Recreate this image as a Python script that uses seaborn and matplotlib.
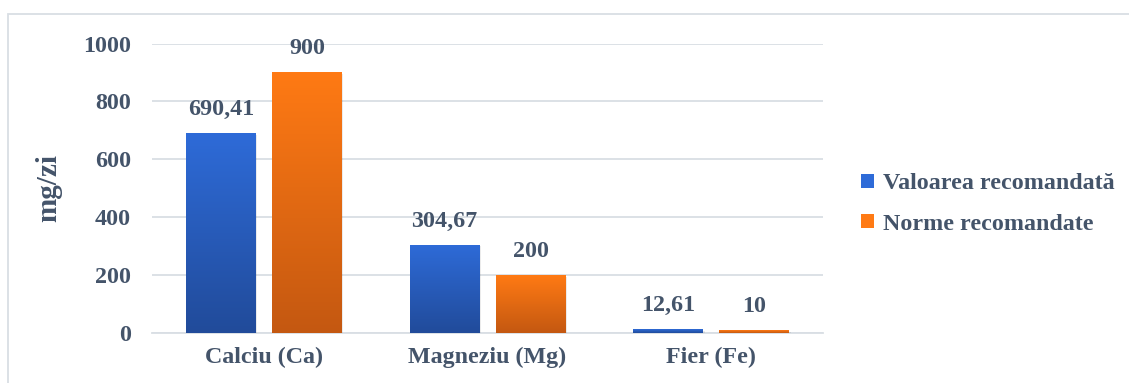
import numpy as np
import pandas as pd
import matplotlib
matplotlib.use("Agg")
import matplotlib.pyplot as plt
import matplotlib.patheffects as pe
from matplotlib.colors import LinearSegmentedColormap
from matplotlib.patches import Patch, Rectangle
import seaborn as sns

# Data
categories = ["Calciu (Ca)", "Magneziu (Mg)", "Fier (Fe)"]
series_names = ["Valoarea recomandată", "Norme recomandate"]
valoarea = [690.41, 304.67, 12.61]
norme = [900, 200, 10]
valoarea_labels = ["690,41", "304,67", "12,61"]
norme_labels = ["900", "200", "10"]
y_ticks = [0, 200, 400, 600, 800, 1000]

df = pd.DataFrame({
    "categorie": categories * 2,
    "serie": [series_names[0]] * 3 + [series_names[1]] * 3,
    "valoare": valoarea + norme,
})

TEXT = "#44546A"
GRID = "#D9DEE4"
FS = 17.3
# (top, bottom) colours of each series' vertical gradient
grad = {
    series_names[0]: ("#2E6BD8", "#214B9A"),
    series_names[1]: ("#FF7A14", "#C45811"),
}

sns.set_theme(style="white")
plt.rcParams["font.family"] = ["Liberation Serif", "DejaVu Serif"]
plt.rcParams["font.weight"] = "bold"

fig = plt.figure(figsize=(11.29, 3.83), dpi=100)
ax = fig.add_axes([152 / 1129, 1 - 333 / 383, (823 - 152) / 1129, (333 - 43.5) / 383])

sns.barplot(data=df, x="categorie", y="valoare", hue="serie",
            order=categories, hue_order=series_names,
            palette=[grad[s][0] for s in series_names],
            width=0.77, gap=0.19, legend=False, ax=ax)

ax.set_xlim(-0.5, 2.5)
ax.set_ylim(0, 1000)
ax.set_yticks(y_ticks)
ax.set_yticklabels([str(t) for t in y_ticks])

# Replace flat fills with vertical gradients clipped to each bar
bars = list(ax.patches)
n = len(categories)
labels_all = valoarea_labels + norme_labels
for i, bar in enumerate(bars):
    serie = series_names[i // n]
    top_c, bot_c = grad[serie]
    cmap = LinearSegmentedColormap.from_list("g", [bot_c, top_c])
    x0, y0 = bar.get_x(), bar.get_y()
    w, h = bar.get_width(), bar.get_height()
    bar.set_facecolor(bot_c)
    bar.set_edgecolor("none")
    bar.set_path_effects([pe.SimplePatchShadow(offset=(1.2, -1.2), shadow_rgbFace="#000000", alpha=0.08),
                          pe.Normal()])
    bar.set_zorder(2)
    img = ax.imshow(np.linspace(0, 1, 256).reshape(-1, 1), cmap=cmap, origin="lower",
                    extent=[x0, x0 + w, y0, y0 + h], aspect="auto", zorder=3,
                    interpolation="bilinear")
    img.set_clip_path(bar)
    ax.annotate(labels_all[i], (x0 + w / 2, y0 + h), xytext=(0, 17),
                textcoords="offset points", ha="center", va="center",
                fontsize=FS, fontweight="bold", color=TEXT)

ax.set_xlim(-0.5, 2.5)
ax.set_ylim(0, 1000)

# Grid and axes styling
ax.yaxis.grid(True, color=GRID, linewidth=1.3, zorder=0)
ax.set_axisbelow(True)
for side in ["top", "right", "left"]:
    ax.spines[side].set_visible(False)
ax.spines["bottom"].set_color(GRID)
ax.spines["bottom"].set_linewidth(1.3)
ax.spines["bottom"].set_zorder(1)

ax.set_xticks([-0.5, 0.5, 1.5, 2.5], minor=True)
ax.tick_params(axis="x", which="minor", length=6, width=1.3, color=GRID, direction="out")
ax.tick_params(axis="x", which="major", length=0, pad=10, labelsize=FS, labelcolor=TEXT)
ax.tick_params(axis="y", length=0, pad=15, labelsize=FS, labelcolor=TEXT)
for lab in ax.get_xticklabels() + ax.get_yticklabels():
    lab.set_fontweight("bold")

ax.set_xlabel("")
ax.set_ylabel("mg/zi", fontsize=21, fontweight="bold", color=TEXT)
ax.yaxis.set_label_coords((62 - 152) / 671, 0.5)

# Legend on the right
handles = [Patch(facecolor=grad[s][0], edgecolor="none") for s in series_names]
leg = fig.legend(handles, series_names, loc="center left",
                 bbox_to_anchor=(861 / 1129, 1 - 204 / 383), frameon=False,
                 fontsize=FS, handlelength=0.55, handleheight=0.55,
                 handletextpad=0.35, labelspacing=0.8, borderaxespad=0, borderpad=0)
for t in leg.get_texts():
    t.set_color(TEXT)
    t.set_fontweight("bold")

# Thin frame around the chart area
fig.patches.append(Rectangle((8 / 1129, -0.1), 1.2, 1 - 14 / 383 + 0.1,
                             transform=fig.transFigure, fill=False,
                             edgecolor=GRID, linewidth=1.3, zorder=0))

fig.savefig("out.png", dpi=100)
